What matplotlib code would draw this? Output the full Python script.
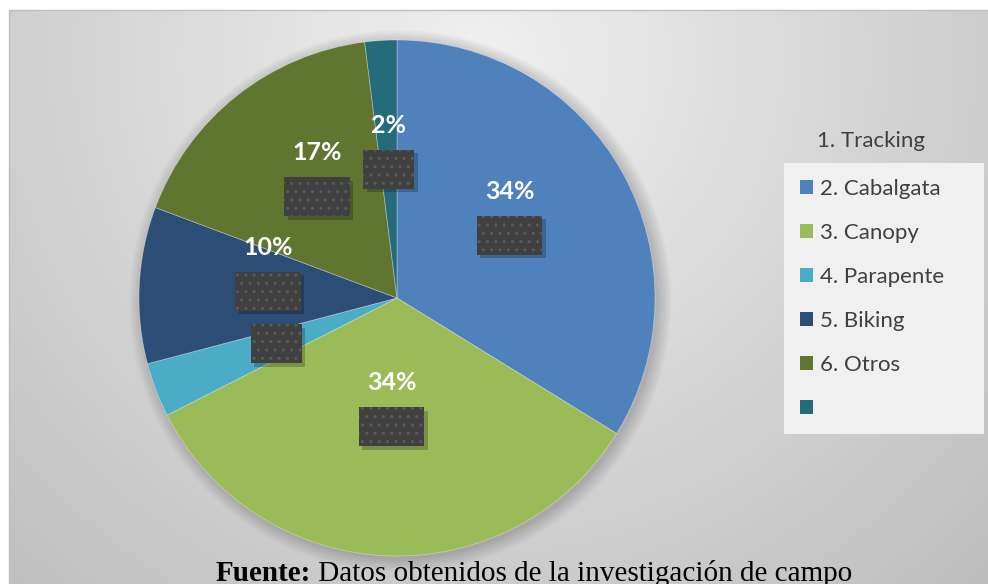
import numpy as np
import matplotlib
matplotlib.use("Agg")
import matplotlib.pyplot as plt
from matplotlib.patches import Patch, Circle

# values (clockwise from 12 o'clock)
header_label = "1. Tracking"
legend_labels = ["2. Cabalgata", "3. Canopy", "4. Parapente", "5. Biking", "6. Otros", ""]
shares = [33.8, 33.7, 3.4, 9.8, 17.3, 2.0]
pct_labels = ["34%", "34%", "3%", "10%", "17%", "2%"]
source_bold = "Fuente:"
source_text = " Datos obtenidos de la investigación de campo"

colors = ["#4F81BD", "#9BBB59", "#4BACC6", "#2C4D75", "#5F7530", "#246B7C"]
W, H = 988, 584
SANS = "Lato"

fig = plt.figure(figsize=(W / 100, H / 100), dpi=100)

# --- chart-area background: soft radial grey gradient with thin border
bg = fig.add_axes([0, 0, 1, 1])
bg.set_axis_off()
yy, xx = np.mgrid[0:H, 0:W]
d = np.hypot((xx - 480) / 650, (yy - 60) / 650)
v = (240 - 45 * d) / 255
img = np.ones((H, W))
inside = (xx >= 9) & (yy >= 10)
img[inside] = v[inside]
bg.imshow(np.dstack([img] * 3), extent=[0, W, H, 0], aspect="auto", interpolation="bilinear")
bg.plot([9, 9, W], [H, 10, 10], color="#bfbfbf", lw=1)
bg.set_xlim(0, W); bg.set_ylim(H, 0)

# --- pie
cx, cy, r = 397, 298, 258
ax = fig.add_axes([(cx - r) / W, (H - cy - r) / H, 2 * r / W, 2 * r / H])
ax.patch.set_visible(False)
for i in range(8):
    ax.add_patch(Circle((0.012, -0.012), 1 + 0.007 * i, color="k", alpha=0.022,
                        zorder=0, clip_on=False, lw=0))
wedges, _ = ax.pie(shares, colors=colors, startangle=90, counterclock=False, radius=1,
                   wedgeprops=dict(linewidth=0.6, edgecolor=(1, 1, 1, 0.35)))
ax.set_xlim(-1, 1); ax.set_ylim(-1, 1)

for w, lab in zip(wedges, pct_labels):
    ang = np.deg2rad((w.theta1 + w.theta2) / 2)
    x, y = 0.5 * np.cos(ang), 0.5 * np.sin(ang)
    kw = dict(ha="center", va="center", fontsize=18, fontweight="bold", family=SANS)
    # drop shadow of the dark label box
    ax.annotate(lab, (x, y), xytext=(2.5, -2.5), textcoords="offset points", color=(0, 0, 0, 0),
                bbox=dict(boxstyle="square,pad=0.32", fc=(0, 0, 0, 0.22), ec="none"), **kw)
    ax.text(x, y, lab, color=(0, 0, 0, 0),
            bbox=dict(boxstyle="square,pad=0.32", fc="#404040", ec="#5a5a5a", hatch="..", lw=0), **kw)
    ax.annotate(lab, (x, y), xytext=(0, 31.7), textcoords="offset points", color="white", **kw)

# --- legend (first entry sits above the box, without a swatch, as in the original)
fig.text(817 / W, 1 - 141 / H, header_label, ha="left", va="center", fontsize=16,
         color="#404040", family=SANS)
handles = [Patch(facecolor=c, edgecolor="none") for c in colors]
leg = fig.legend(handles, legend_labels, loc="upper left",
                 bbox_to_anchor=(784 / W, 1 - 435 / H, 200 / W, 272 / H), mode="expand",
                 borderaxespad=0, prop=dict(family=SANS, size=16), labelcolor="#404040",
                 handlelength=0.6, handleheight=0.6, handletextpad=0.3,
                 labelspacing=1.08, borderpad=0.7, fancybox=False)
leg.get_frame().set_facecolor("#f0f0f0")
leg.get_frame().set_edgecolor("none")
leg.get_frame().set_alpha(1)

# --- source line
t1 = bg.text(216, 581, source_bold, fontfamily="Liberation Serif", fontweight="bold",
             fontsize=21, va="baseline", ha="left", color="black")
bg.annotate(source_text, xy=(1, 0), xycoords=t1, va="bottom", ha="left",
            fontfamily="Liberation Serif", fontsize=21, color="black")

fig.savefig("out.png", dpi=100)
